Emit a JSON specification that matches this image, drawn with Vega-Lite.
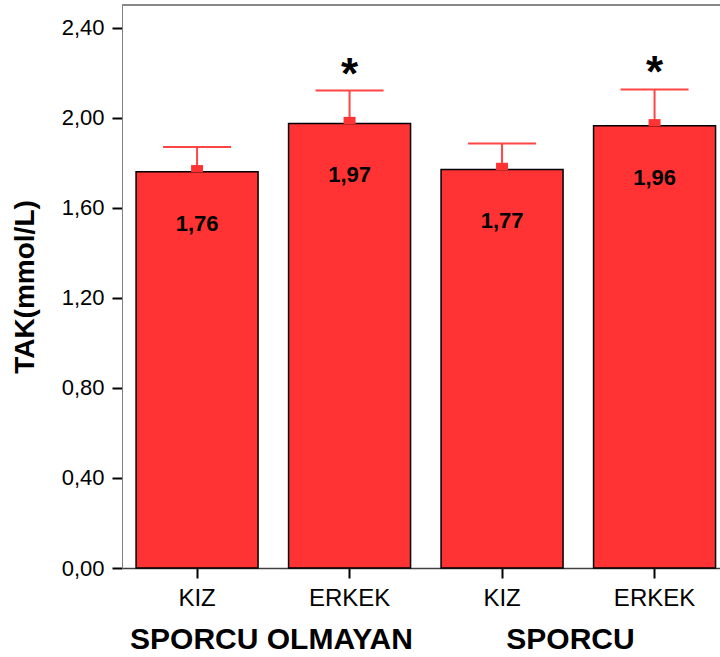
{
  "$schema": "https://vega.github.io/schema/vega-lite/v6.json",
  "autosize": {"type": "none"},
  "width": 598,
  "height": 563,
  "padding": {"left": 122, "top": 5, "right": 0, "bottom": 89},
  "data": {"values": [
    {"bar": "KIZ (SPORCU OLMAYAN)", "group": "SPORCU OLMAYAN", "sex": "KIZ", "mean": 1.76, "upper": 1.87, "sig": ""},
    {"bar": "ERKEK (SPORCU OLMAYAN)", "group": "SPORCU OLMAYAN", "sex": "ERKEK", "mean": 1.974, "upper": 2.12, "sig": "*"},
    {"bar": "KIZ (SPORCU)", "group": "SPORCU", "sex": "KIZ", "mean": 1.77, "upper": 1.885, "sig": ""},
    {"bar": "ERKEK (SPORCU)", "group": "SPORCU", "sex": "ERKEK", "mean": 1.964, "upper": 2.125, "sig": "*"}
  ]},
  "layer": [
    {
      "encoding": {
        "x": {"field": "bar", "type": "nominal", "sort": null,
          "scale": {"paddingInner": 0.2, "paddingOuter": 0.0607, "align": 0.76},
          "axis": {"title": null, "labelAngle": 0, "orient": "bottom", "labelExpr": "split(datum.label, ' (')[0]"}}
      },
      "layer": [
        {"mark": {"type": "bar", "fill": "#FF3333", "stroke": "#000000", "strokeWidth": 1.5},
          "encoding": {"y": {"field": "mean", "type": "quantitative", "scale": {"domain": [0, 2.5], "nice": false},
            "axis": {"title": "TAK(mmol/L)", "orient": "left", "values": [0, 0.4, 0.8, 1.2, 1.6, 2.0, 2.4], "format": ".2f", "grid": false}}}},
        {"mark": {"type": "rule", "color": "#FF4444", "strokeWidth": 2},
          "encoding": {"y": {"field": "mean", "type": "quantitative"}, "y2": {"field": "upper"}}},
        {"mark": {"type": "tick", "color": "#FF4444", "thickness": 2, "size": 68, "orient": "horizontal", "opacity": 1},
          "encoding": {"y": {"field": "upper", "type": "quantitative"}}},
        {"mark": {"type": "point", "shape": "M-1,-1.1H1V0.1H-1Z", "filled": true, "color": "#FF3333", "size": 144, "opacity": 1},
          "encoding": {"y": {"field": "mean", "type": "quantitative"}}},
        {"mark": {"type": "text", "font": "Liberation Sans", "fontWeight": "bold", "fontSize": 22, "color": "#000000", "baseline": "middle", "dy": 52},
          "encoding": {"y": {"field": "mean", "type": "quantitative"}, "text": {"field": "mean", "type": "quantitative", "format": ".2f"}}},
        {"mark": {"type": "text", "font": "Liberation Sans", "fontWeight": "bold", "fontSize": 44, "color": "#000000", "baseline": "alphabetic", "dy": -2},
          "encoding": {"y": {"field": "upper", "type": "quantitative"}, "text": {"field": "sig"}}}
      ]
    },
    {
      "mark": {"type": "bar", "fillOpacity": 0, "stroke": "#808080", "strokeWidth": 1},
      "encoding": {
        "x": {"field": "group", "type": "nominal", "sort": ["SPORCU OLMAYAN", "SPORCU"],
          "scale": {"paddingInner": 0, "paddingOuter": 0},
          "axis": {"title": null, "orient": "bottom", "labelAngle": 0, "domain": false, "ticks": false, "offset": 46, "labelPadding": 10,
            "labelFontSize": 30, "labelFontWeight": "bold", "labelLimit": 400}},
        "y": {"datum": 2.5, "type": "quantitative",
          "axis": {"title": "TAK(mmol/L)", "orient": "left", "values": [0, 0.4, 0.8, 1.2, 1.6, 2.0, 2.4], "format": ".2f", "grid": false}},
        "y2": {"datum": 2.5}
      }
    }
  ],
  "resolve": {"scale": {"x": "independent"}, "axis": {"x": "independent"}},
  "config": {
    "locale": {"number": {"decimal": ",", "thousands": ".", "grouping": [3], "currency": ["", ""]}},
    "view": {"stroke": null},
    "font": "Liberation Sans",
    "axisY": {"domainColor": "#808080", "domainWidth": 1, "tickColor": "#000000", "tickWidth": 2, "tickSize": 10,
      "labelFont": "Liberation Sans", "labelFontSize": 22, "labelColor": "#000000", "labelPadding": 8,
      "titleFont": "Liberation Sans", "titleFontSize": 28, "titleFontWeight": "bold", "titleColor": "#000000", "titlePadding": 22},
    "axisX": {"domainColor": "#404040", "domainWidth": 1.5, "tickColor": "#000000", "tickWidth": 2, "tickSize": 10,
      "labelFont": "Liberation Sans", "labelFontSize": 24, "labelColor": "#000000", "labelPadding": 8}
  }
}
